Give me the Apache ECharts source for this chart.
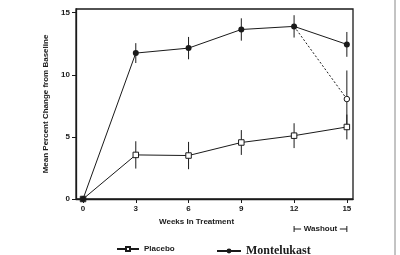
<!DOCTYPE html>
<html>
<head>
<meta charset="utf-8">
<script src="https://cdn.jsdelivr.net/npm/echarts@6/dist/echarts.min.js"></script>
<style>
  html, body { margin: 0; padding: 0; background: #fff; }
  #main { width: 400px; height: 255px; }
</style>
</head>
<body>
<div id="main"></div>
<script>
// data
var weeks = [0, 3, 6, 9, 12, 15];
var montelukast = [0, 11.75, 12.15, 13.65, 13.9, 12.45];
var montelukastErr = [0, 0.8, 0.9, 0.9, 0.9, 1.0];
var placebo = [0, 3.55, 3.5, 4.55, 5.1, 5.8];
var placeboErr = [0, 1.1, 1.1, 1.0, 1.0, 1.0];
// montelukast group after stopping treatment (washout)
var washoutWeeks = [12, 15];
var washoutValues = [13.9, 8.05];
var washoutErr = [0, 2.3];
var xTicks = [0, 3, 6, 9, 12, 15];
var yTicks = [0, 5, 10, 15];

var ink = '#1a1a1a';
var sans = 'Liberation Sans, Arial, sans-serif';

function pairs(xs, ys) {
    return xs.map(function (x, i) { return [x, ys[i]]; });
}
function errPairs(xs, ys, es) {
    var out = [];
    xs.forEach(function (x, i) {
        if (es[i] > 0) out.push([x, ys[i] - es[i], ys[i] + es[i]]);
    });
    return out;
}
// vertical error bar
function errorBar(params, api) {
    var lo = api.coord([api.value(0), api.value(1)]);
    var hi = api.coord([api.value(0), api.value(2)]);
    return {
        type: 'line',
        shape: { x1: lo[0], y1: lo[1], x2: hi[0], y2: hi[1] },
        style: { stroke: ink, lineWidth: 1 }
    };
}

var chart = echarts.init(document.getElementById('main'), null, { renderer: 'canvas' });

var tickFont = { color: ink, fontSize: 8, fontWeight: 'bold', fontFamily: sans };

var washoutData = pairs(washoutWeeks, washoutValues);
washoutData[0] = { value: washoutData[0], symbol: 'none' };

var option = {
    animation: false,
    backgroundColor: '#fff',
    grid: {
        left: 76, right: 47, top: 9, bottom: 56,
        show: true, borderColor: ink, borderWidth: 1.3
    },
    xAxis: {
        type: 'value',
        min: -0.4,
        max: 15.35,
        axisLine: { onZero: false, lineStyle: { color: ink, width: 1.3 } },
        axisTick: { show: true, length: 4, customValues: xTicks, lineStyle: { color: ink } },
        axisLabel: Object.assign({ customValues: xTicks, margin: 6 }, tickFont),
        splitLine: { show: false }
    },
    yAxis: {
        type: 'value',
        min: 0,
        max: 15.3,
        name: 'Mean Percent Change from Baseline',
        nameLocation: 'middle',
        nameGap: 24,
        nameTextStyle: { color: ink, fontSize: 8, fontWeight: 'bold', fontFamily: sans },
        axisLine: { show: true, onZero: false, lineStyle: { color: ink, width: 1.3 } },
        axisTick: { show: true, length: 4, customValues: yTicks, lineStyle: { color: ink } },
        axisLabel: Object.assign({ customValues: yTicks, margin: 6 }, tickFont),
        splitLine: { show: false }
    },
    legend: [{
        data: ['Placebo'],
        left: 111, top: 240,
        itemWidth: 22, itemHeight: 5, itemGap: 8,
        textStyle: { color: ink, fontSize: 8, fontWeight: 'bold', fontFamily: sans }
    }, {
        data: ['Montelukast'],
        left: 211, top: 240,
        itemWidth: 24, itemHeight: 6, itemGap: 7,
        textStyle: { color: ink, fontSize: 12, fontWeight: 'bold', fontFamily: 'Liberation Serif, Times New Roman, serif' }
    }],
    series: [{
        name: 'Placebo',
        type: 'line',
        data: pairs(weeks, placebo),
        symbol: 'rect',
        symbolSize: 5.5,
        lineStyle: { color: ink, width: 1 },
        itemStyle: { color: '#fff', borderColor: ink, borderWidth: 1 },
        z: 3
    }, {
        name: 'Montelukast',
        type: 'line',
        data: pairs(weeks, montelukast),
        symbol: 'circle',
        symbolSize: 6,
        lineStyle: { color: ink, width: 1 },
        itemStyle: { color: ink },
        z: 4
    }, {
        name: 'Washout',
        type: 'line',
        data: washoutData,
        symbol: 'circle',
        symbolSize: 5.5,
        lineStyle: { color: ink, width: 1, type: [2, 2] },
        itemStyle: { color: '#fff', borderColor: ink, borderWidth: 1 },
        z: 3
    }, {
        type: 'custom',
        renderItem: errorBar,
        data: errPairs(weeks, placebo, placeboErr),
        z: 2
    }, {
        type: 'custom',
        renderItem: errorBar,
        data: errPairs(weeks, montelukast, montelukastErr),
        z: 2
    }, {
        type: 'custom',
        renderItem: errorBar,
        data: errPairs(washoutWeeks, washoutValues, washoutErr),
        z: 2
    }]
};
chart.setOption(option);

// axis title and washout bracket, placed from the x scale
var x0 = chart.convertToPixel({ xAxisIndex: 0 }, 3);
var x1 = chart.convertToPixel({ xAxisIndex: 0 }, 9);
var w12 = chart.convertToPixel({ xAxisIndex: 0 }, washoutWeeks[0]);
var w15 = chart.convertToPixel({ xAxisIndex: 0 }, washoutWeeks[1]);
var by = 229;
chart.setOption({
    graphic: [{
        type: 'text',
        x: (x0 + x1) / 2 + 8, y: 222,
        style: {
            text: 'Weeks In Treatment', fill: ink, align: 'center', verticalAlign: 'middle',
            fontSize: 8, fontWeight: 'bold', fontFamily: sans
        }
    }, {
        type: 'line',
        shape: { x1: w12, y1: by - 3, x2: w12, y2: by + 3 },
        style: { stroke: ink, lineWidth: 1 }
    }, {
        type: 'line',
        shape: { x1: w15, y1: by - 3, x2: w15, y2: by + 3 },
        style: { stroke: ink, lineWidth: 1 }
    }, {
        type: 'line',
        shape: { x1: w12, y1: by, x2: w12 + 7, y2: by },
        style: { stroke: ink, lineWidth: 1 }
    }, {
        type: 'line',
        shape: { x1: w15 - 7, y1: by, x2: w15, y2: by },
        style: { stroke: ink, lineWidth: 1 }
    }, {
        type: 'text',
        x: (w12 + w15) / 2, y: by,
        style: {
            text: 'Washout', fill: ink, align: 'center', verticalAlign: 'middle',
            fontSize: 8, fontWeight: 'bold', fontFamily: sans
        }
    }, {
        type: 'line',
        shape: { x1: 395, y1: 0, x2: 395, y2: 255 },
        style: { stroke: '#888', lineWidth: 1 }
    }]
});
</script>
</body>
</html>
